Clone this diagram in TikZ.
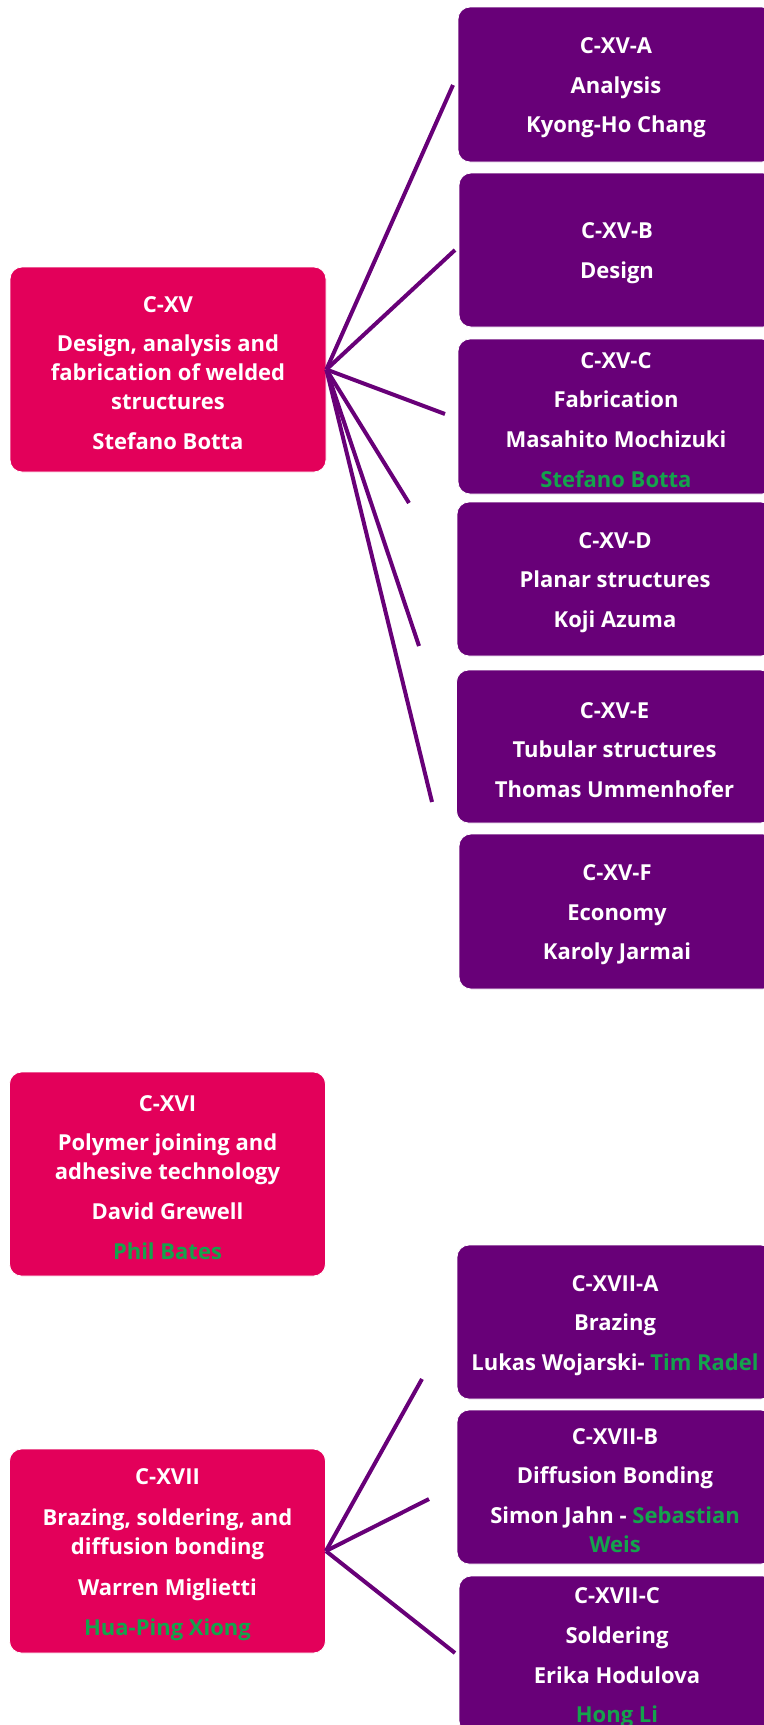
\documentclass[tikz,border=0pt]{standalone}
\usepackage{fontspec}
\setmainfont{Open Sans}
\definecolor{pinkc}{HTML}{E3005A}
\definecolor{purp}{HTML}{680078}
\definecolor{grn}{HTML}{14A34C}
\newcommand{\gr}[1]{\textcolor{grn}{#1}}
\newcommand{\PGap}{\\[5.3pt]}
\tikzset{
  box/.style={rounded corners=6pt, draw=white, line width=0.4pt,
    minimum width=158pt, inner sep=0pt},
  pinkbox/.style={box, fill=pinkc},
  purpbox/.style={box, fill=purp},
  txt/.style={text=white, align=center, inner sep=0pt, yshift=-1.7pt,
    font=\fontsize{11}{14.5}\selectfont\bfseries},
  conn/.style={draw=purp, line width=2pt},
}
\begin{document}
\begin{tikzpicture}[x=0.5pt, y=-0.5pt]
\useasboundingbox (0,0) rectangle (764,1725);
\clip (0,0) rectangle (764,1725);
% C-XV group
\node[pinkbox, minimum height=102.5pt] (cxv) at (168,369.5) {};
\node[txt] (cxvt) at (cxv.center)
  {C-XV\PGap Design, analysis and\\fabrication of welded\\structures\PGap Stefano Botta};
\node[purpbox, minimum height=77.5pt] (a) at (616,84.5) {};
\node[txt] (at) at (a.center) {C-XV-A\PGap Analysis\PGap Kyong-Ho Chang};
\node[purpbox, minimum height=77pt] (b) at (617,250) {};
\node[txt] (bt) at (b.center) {C-XV-B\PGap Design};
\node[purpbox, minimum height=77.5pt] (c) at (616,416.5) {};
\node[txt] (ct) at (c.center)
  {C-XV-C\PGap Fabrication\PGap Masahito Mochizuki\PGap \gr{Stefano Botta}};
\node[purpbox, minimum height=77pt] (d) at (615,579) {};
\node[txt] (dt) at (d.center) {C-XV-D\PGap Planar structures\PGap Koji Azuma};
\node[purpbox, minimum height=76.5pt] (e) at (614.5,746.5) {};
\node[txt] (et) at (e.center) {C-XV-E\PGap Tubular structures\PGap Thomas Ummenhofer};
\node[purpbox, minimum height=77.5pt] (f) at (617,911.5) {};
\node[txt] (ft) at (f.center) {C-XV-F\PGap Economy\PGap Karoly Jarmai};
\coordinate (ea) at (453,85);
\coordinate (eb) at (455,250);
\coordinate (ec) at (445,414);
\coordinate (ed) at (409,503);
\coordinate (ee) at (419,646);
\coordinate (ef) at (432,802);
\foreach \t in {ea,eb,ec,ed,ee,ef} \draw[conn] (cxv.east) -- (\t);
% C-XVI
\node[pinkbox, minimum height=102pt] (cxvi) at (167.5,1174) {};
\node[txt] (cxvit) at (cxvi.center)
  {C-XVI\PGap Polymer joining and\\adhesive technology\PGap David Grewell\PGap \gr{Phil Bates}};
% C-XVII group
\node[pinkbox, minimum height=102pt] (cxvii) at (167.5,1551) {};
\node[txt] (cxviit) at (cxvii.center)
  {C-XVII\\[6pt]Brazing, soldering, and\\diffusion bonding\\[6pt]Warren Miglietti\PGap \gr{Hua-Ping Xiong}};
\node[purpbox, minimum height=77pt] (xa) at (615,1322) {};
\node[txt] (xat) at (xa.center) {C-XVII-A\PGap Brazing\PGap Lukas Wojarski- \gr{Tim Radel}};
\node[purpbox, minimum height=77pt] (xb) at (615,1487) {};
\node[txt] (xbt) at (xb.center)
  {C-XVII-B\PGap Diffusion Bonding\PGap Simon Jahn - \gr{Sebastian}\\\gr{Weis}};
\node[purpbox, minimum height=78.5pt] (xc) at (617,1654.5) {};
\node[txt] (xct) at (xc.center) {C-XVII-C\PGap Soldering\PGap Erika Hodulova\PGap \gr{Hong Li}};
\coordinate (xea) at (422,1379);
\coordinate (xeb) at (429,1499);
\coordinate (xec) at (455,1653);
\foreach \t in {xea,xeb,xec} \draw[conn] (cxvii.east) -- (\t);
\end{tikzpicture}
\end{document}
